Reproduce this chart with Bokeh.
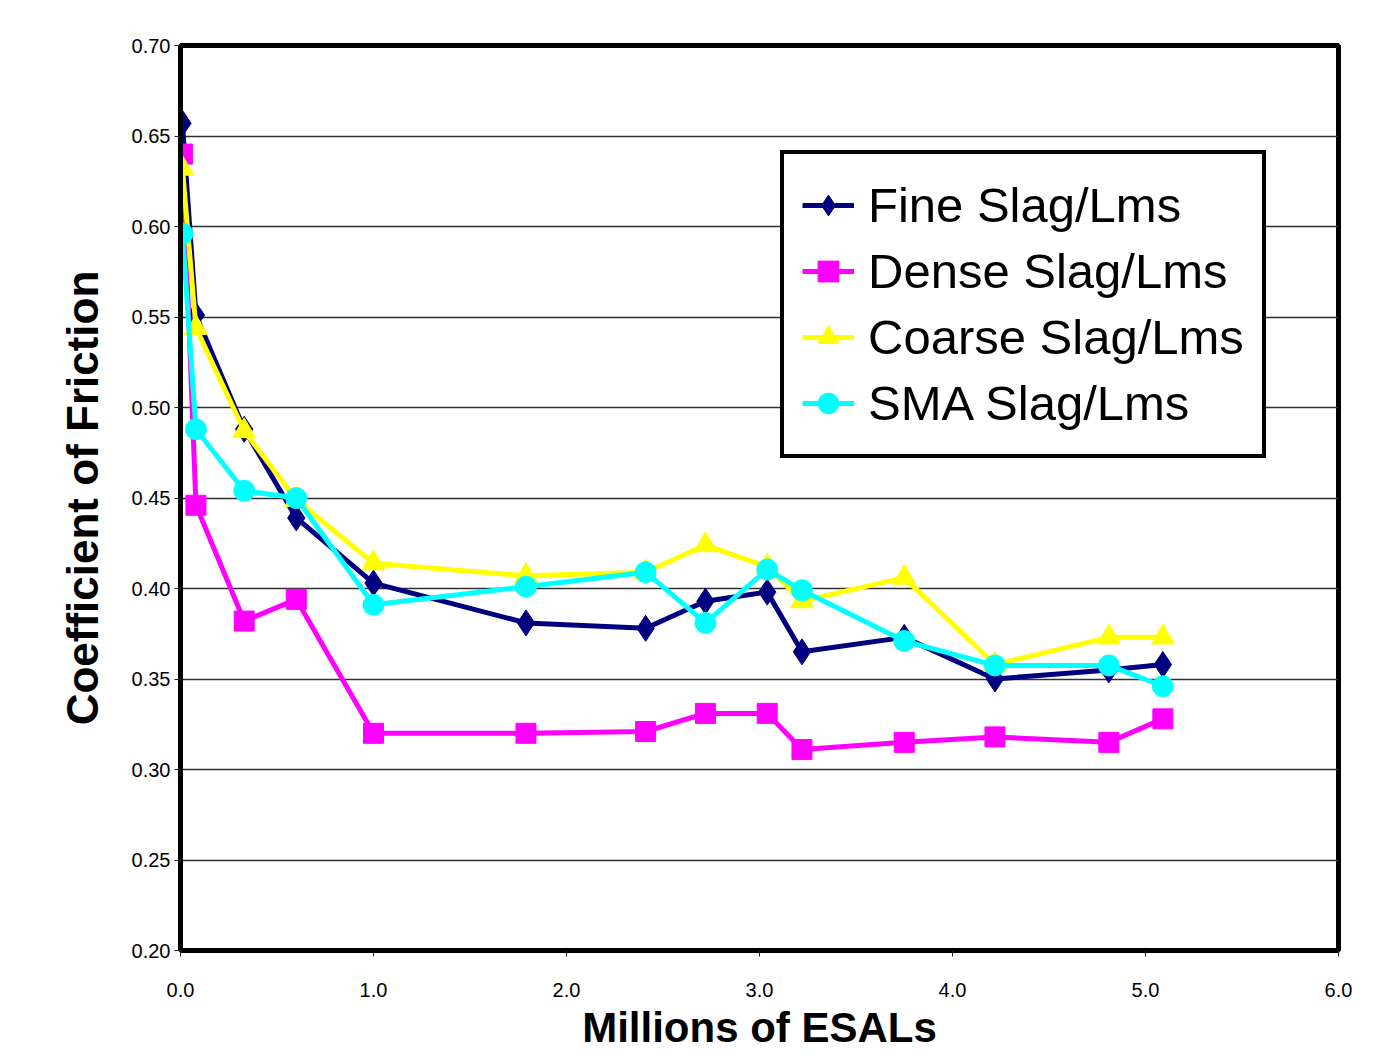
from bokeh.plotting import figure
from bokeh.models import Legend, LegendItem, FixedTicker, NumeralTickFormatter, Range1d
from bokeh.embed import file_html
from bokeh.resources import INLINE

esals = [0.01, 0.08, 0.33, 0.60, 1.00, 1.79, 2.41, 2.72, 3.04, 3.22, 3.75, 4.22, 4.81, 5.09]

fine_slag = [0.657, 0.551, 0.488, 0.439, 0.403, 0.381, 0.378, 0.393, 0.398, 0.365, 0.373, 0.350, 0.355, 0.358]
dense_slag = [0.640, 0.446, 0.382, 0.394, 0.320, 0.320, 0.321, 0.331, 0.331, 0.311, 0.315, 0.318, 0.315, 0.328]
coarse_slag = [0.632, 0.544, 0.487, 0.449, 0.414, 0.407, 0.409, 0.424, 0.412, 0.393, 0.406, 0.358, 0.373, 0.373]
sma_slag = [0.596, 0.488, 0.454, 0.450, 0.391, 0.401, 0.409, 0.381, 0.4105, 0.399, 0.371, 0.3575, 0.3575, 0.346]

series_names = ["Fine Slag/Lms", "Dense Slag/Lms", "Coarse Slag/Lms", "SMA Slag/Lms"]
series_values = [fine_slag, dense_slag, coarse_slag, sma_slag]
series_colors = ["#000080", "#FF00FF", "#FFFF00", "#00FFFF"]
series_markers = ["diamond", "square", "triangle", "circle"]
marker_sizes = [26, 20, 23, 21]

x_ticks = [0, 1, 2, 3, 4, 5, 6]
y_ticks = [0.20, 0.25, 0.30, 0.35, 0.40, 0.45, 0.50, 0.55, 0.60, 0.65, 0.70]

FONT = "Liberation Sans"

p = figure(width=1368, height=1053, output_backend="svg", toolbar_location=None,
           x_range=Range1d(0, 6), y_range=Range1d(0.20, 0.70),
           min_border_left=180, min_border_right=30, min_border_top=45, min_border_bottom=103)

p.outline_line_color = "black"
p.outline_line_width = 5
p.outline_line_alpha = 1
p.background_fill_color = "white"
p.border_fill_color = "white"

p.xgrid.grid_line_color = None
p.ygrid.grid_line_color = "#303030"
p.ygrid.grid_line_width = 1.3
p.ygrid.ticker = FixedTicker(ticks=y_ticks)

p.xaxis.ticker = FixedTicker(ticks=x_ticks)
p.yaxis.ticker = FixedTicker(ticks=y_ticks)
p.xaxis.formatter = NumeralTickFormatter(format="0.0")
p.yaxis.formatter = NumeralTickFormatter(format="0.00")

for ax in (p.xaxis[0], p.yaxis[0]):
    ax.axis_line_color = "black"
    ax.axis_line_width = 5
    ax.major_tick_in = 0
    ax.major_tick_out = 6
    ax.major_tick_line_color = "#222222"
    ax.major_tick_line_width = 1
    ax.minor_tick_line_color = None
    ax.major_label_text_font = FONT
    ax.major_label_text_font_size = "20px"
    ax.major_label_text_color = "black"
    ax.axis_label_text_font = FONT
    ax.axis_label_text_font_style = "bold"
    ax.axis_label_text_color = "black"

p.xaxis.axis_label = "Millions of ESALs"
p.xaxis.axis_label_text_font_size = "42px"
p.xaxis.major_label_standoff = 26
p.xaxis.axis_label_standoff = 4

p.yaxis.axis_label = "Coefficient of Friction"
p.yaxis.axis_label_text_font_size = "44px"
p.yaxis.major_label_standoff = 4
p.yaxis.axis_label_standoff = 22

items = []
for name, vals, col, mk, ms in zip(series_names, series_values, series_colors, series_markers, marker_sizes):
    ln = p.line(esals, vals, line_color=col, line_width=5)
    sc = p.scatter(esals, vals, marker=mk, size=ms, fill_color=col, line_color=col)
    items.append(LegendItem(label=name, renderers=[ln, sc]))

legend = Legend(items=items, location=(600, 492))
legend.border_line_color = "black"
legend.border_line_alpha = 1
legend.border_line_width = 4
legend.background_fill_color = "white"
legend.background_fill_alpha = 1
legend.label_text_font = FONT
legend.label_text_font_size = "49px"
legend.label_text_color = "black"
legend.glyph_width = 52
legend.glyph_height = 66
legend.label_height = 66
legend.spacing = 0
legend.padding = 18
legend.label_standoff = 14
legend.margin = 0
p.add_layout(legend)

open("out.html", "w").write(file_html(p, INLINE))
